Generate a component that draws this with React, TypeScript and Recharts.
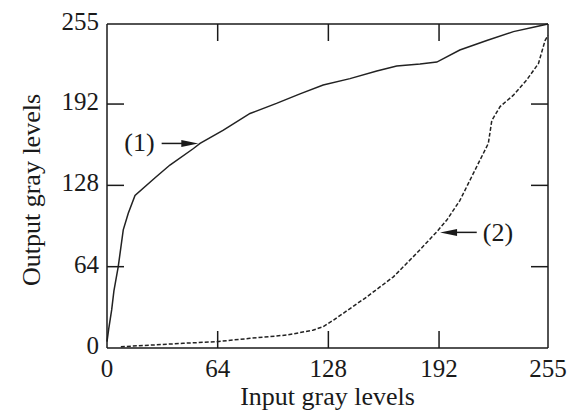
import { LineChart, Line, XAxis, YAxis, ReferenceLine } from 'recharts';

// gray-level transfer curves
const curve1X = [0, 1, 2.7, 4, 6.5, 9.4, 12.3, 16.2, 27.8, 36.4, 50, 53.8, 67.3, 82.7, 98, 111.6, 125, 140.5, 156, 167.5, 181, 190.7, 204, 219.6, 235, 248.5, 255];
const curve1Y = [5, 15, 30, 45, 64, 93, 106, 120, 134, 144, 157, 161, 171.5, 184.6, 192.5, 200, 207, 212, 218, 222, 223.5, 225, 234.5, 242, 249, 253, 255];

const curve2X = [8, 27, 44, 63.4, 82.7, 104, 119, 125, 131, 150, 165.6, 179, 190.7, 196.5, 204, 215.7, 220.5, 222.5, 227.3, 235, 242.7, 249.5, 253.3, 255];
const curve2Y = [1, 2.4, 3.7, 5, 7.6, 10.2, 14, 16.8, 22, 40, 56, 74.5, 91.5, 100.7, 116, 148, 161, 179, 190, 199, 211, 224, 242, 246];

const ticks = [0, 64, 128, 192, 255];
const innerTicks = [64, 128, 192];

// annotation arrows: [tail, tip]
const arrow1 = [{ x: 31.6, y: 161 }, { x: 52.8, y: 161 }];
const arrow2 = [{ x: 213.8, y: 91 }, { x: 192.6, y: 91 }];

const curve1 = curve1X.map((x, i) => ({ x, y: curve1Y[i] }));
const curve2 = curve2X.map((x, i) => ({ x, y: curve2Y[i] }));

const ink = '#1a1a1a';
const font = '"Liberation Serif", "Times New Roman", serif';
const TICK_LEN = 17;

const Arrow = (props: any) => {
    const { x1, y1, x2, y2 } = props;
    const dir = Math.sign(x2 - x1);
    return (
        <g>
            <line x1={x1} y1={y1} x2={x2 - dir * 12} y2={y2} stroke={ink} strokeWidth={1.5} />
            <polygon
                points={`${x2},${y2} ${x2 - dir * 17},${y2 - 3.5} ${x2 - dir * 17},${y2 + 3.5}`}
                fill={ink}
            />
        </g>
    );
};

// inward x ticks at top and bottom of the frame
const TickPair = (props: any) => {
    const { x1, y1, y2 } = props;
    const top = Math.min(y1, y2);
    const bottom = Math.max(y1, y2);
    return (
        <g>
            <line x1={x1} y1={top} x2={x1} y2={top + TICK_LEN} stroke={ink} strokeWidth={1.5} />
            <line x1={x1} y1={bottom} x2={x1} y2={bottom - TICK_LEN} stroke={ink} strokeWidth={1.5} />
        </g>
    );
};

const NoLabel = () => <g />;

export default function App() {
    const tickStyle = { fontFamily: font, fontSize: 25, fill: ink };
    // mirrored axes draw the frame with inward ticks
    const frame = {
        type: 'number' as const,
        domain: [0, 255],
        allowDataOverflow: true,
        ticks: innerTicks,
        interval: 0,
        mirror: true,
        tick: NoLabel,
        tickLine: { stroke: ink, strokeWidth: 1.5 },
        tickSize: TICK_LEN,
        stroke: ink,
        strokeWidth: 1.5,
    };
    return (
        <div style={{ position: 'absolute', left: 0, top: 0, width: 569, height: 413, background: '#fff', fontFamily: font }}>
            <LineChart width={569} height={413} margin={{ top: 24, right: 21, left: 0, bottom: 0 }}>
                <XAxis
                    dataKey="x"
                    type="number"
                    domain={[0, 255]}
                    ticks={ticks}
                    interval={0}
                    height={65}
                    axisLine={false}
                    tickLine={false}
                    tickSize={0}
                    tickMargin={11}
                    tick={tickStyle}
                    label={{ value: 'Input gray levels', position: 'insideBottom', offset: 8, fontFamily: font, fontSize: 26, fill: ink }}
                />
                <XAxis xAxisId="b2" height={1} {...frame} />
                <XAxis xAxisId="top" orientation="top" height={1} {...frame} />
                <YAxis
                    type="number"
                    domain={[0, 255]}
                    ticks={ticks}
                    interval={0}
                    width={107}
                    axisLine={false}
                    tickLine={false}
                    tickSize={0}
                    tickMargin={8}
                    tick={{ ...tickStyle, dy: -3 }}
                    label={{ value: 'Output gray levels', angle: -90, position: 'center', dx: -23, dy: 4, textAnchor: 'middle', fontFamily: font, fontSize: 26, fill: ink }}
                />
                <YAxis yAxisId="l2" width={1} {...frame} />
                <YAxis yAxisId="right" orientation="right" width={1} {...frame} />
                {innerTicks.map((v) => (
                    <ReferenceLine key={v} x={v} shape={TickPair} />
                ))}
                <Line data={curve1} dataKey="y" type="linear" stroke="#222" strokeWidth={1.5} dot={false} isAnimationActive={false} />
                <Line data={curve2} dataKey="y" type="linear" stroke="#222" strokeWidth={1.5} strokeDasharray="4 2" dot={false} isAnimationActive={false} />
                <ReferenceLine
                    segment={arrow1}
                    shape={Arrow}
                    label={{ value: '(1)', position: 'left', offset: 7, dy: -2, fontFamily: font, fontSize: 26, fill: ink }}
                />
                <ReferenceLine
                    segment={arrow2}
                    shape={Arrow}
                    label={{ value: '(2)', position: 'right', offset: 6, dy: -1, fontFamily: font, fontSize: 26, fill: ink }}
                />
            </LineChart>
        </div>
    );
}
